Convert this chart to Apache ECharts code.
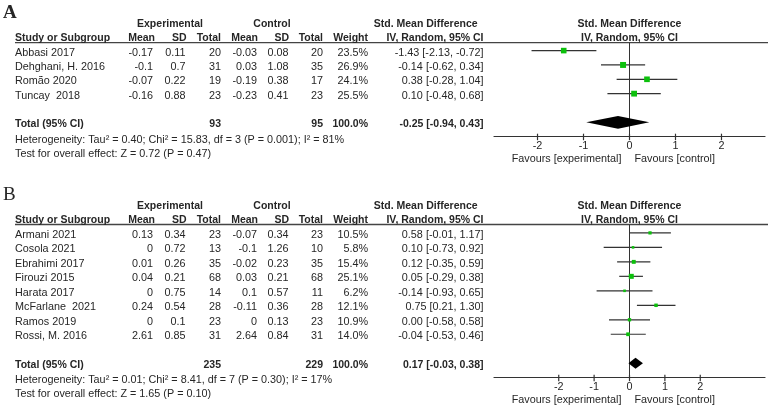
<!DOCTYPE html>
<html><head><meta charset="utf-8">
<script src="https://cdn.jsdelivr.net/npm/echarts@6/dist/echarts.min.js"></script>
<style>html,body{margin:0;padding:0;background:#fff}#c{width:777px;height:410px}</style>
</head><body><div id="c"></div>
<script>
// ---------- Panel A data ----------
const studiesA = ["Abbasi 2017", "Dehghani, H. 2016", "Romão 2020", "Tuncay  2018"];
const expMeanA = [-0.17, -0.1, -0.07, -0.16];
const expSdA   = [0.11, 0.7, 0.22, 0.88];
const expNA    = [20, 31, 19, 23];
const ctlMeanA = [-0.03, 0.03, -0.19, -0.23];
const ctlSdA   = [0.08, 1.08, 0.38, 0.41];
const ctlNA    = [20, 35, 17, 23];
const weightA  = [23.5, 26.9, 24.1, 25.5];
const smdA     = [-1.43, -0.14, 0.38, 0.10];
const lowA     = [-2.13, -0.62, -0.28, -0.48];
const highA    = [-0.72, 0.34, 1.04, 0.68];
const totalA   = [93, 95, 100.0];          // exp N, ctl N, weight
const pooledA  = [-0.25, -0.94, 0.43];     // smd, low, high
const hetA  = "Heterogeneity: Tau\u00b2 = 0.40; Chi\u00b2 = 15.83, df = 3 (P = 0.001); I\u00b2 = 81%";
const testA = "Test for overall effect: Z = 0.72 (P = 0.47)";

// ---------- Panel B data ----------
const studiesB = ["Armani 2021", "Cosola 2021", "Ebrahimi 2017", "Firouzi 2015", "Harata 2017", "McFarlane  2021", "Ramos 2019", "Rossi, M. 2016"];
const expMeanB = [0.13, 0, 0.01, 0.04, 0, 0.24, 0, 2.61];
const expSdB   = [0.34, 0.72, 0.26, 0.21, 0.75, 0.54, 0.1, 0.85];
const expNB    = [23, 13, 35, 68, 14, 28, 23, 31];
const ctlMeanB = [-0.07, -0.1, -0.02, 0.03, 0.1, -0.11, 0, 2.64];
const ctlSdB   = [0.34, 1.26, 0.23, 0.21, 0.57, 0.36, 0.13, 0.84];
const ctlNB    = [23, 10, 35, 68, 11, 28, 23, 31];
const weightB  = [10.5, 5.8, 15.4, 25.1, 6.2, 12.1, 10.9, 14.0];
const smdB     = [0.58, 0.10, 0.12, 0.05, -0.14, 0.75, 0.00, -0.04];
const lowB     = [-0.01, -0.73, -0.35, -0.29, -0.93, 0.21, -0.58, -0.53];
const highB    = [1.17, 0.92, 0.59, 0.38, 0.65, 1.30, 0.58, 0.46];
const totalB   = [235, 229, 100.0];
const pooledB  = [0.17, -0.03, 0.38];
const hetB  = "Heterogeneity: Tau\u00b2 = 0.01; Chi\u00b2 = 8.41, df = 7 (P = 0.30); I\u00b2 = 17%";
const testB = "Test for overall effect: Z = 1.65 (P = 0.10)";

// ---------- shared text ----------
const tickValues = [-2, -1, 0, 1, 2];
const panelLabels = ["A", "B"];
const headTop = ["Experimental", "Control", "Std. Mean Difference"];
const headCols = ["Study or Subgroup", "Mean", "SD", "Total", "Mean", "SD", "Total", "Weight", "IV, Random, 95% CI"];
const favours = ["Favours [experimental]", "Favours [control]"];
const totalLabel = "Total (95% CI)";

// ---------- styling / layout ----------
const FONT = '"Liberation Sans", Arial, sans-serif';
const FS = 10.8;
const FSB = 10.5;
const TXT = '#262626';
const LINE = '#333';
const GREEN = '#0cc00c';
const TXT_DY = 2;
const colRight = [null, 155, 186.5, 221, 258, 289, 323, 368, 483.5];
const STUDY_X = 15;

const panels = [
  { studies: studiesA, eM: expMeanA, eS: expSdA, eN: expNA, cM: ctlMeanA, cS: ctlSdA, cN: ctlNA,
    w: weightA, smd: smdA, lo: lowA, hi: highA, tot: totalA, pool: pooledA, het: hetA, test: testA,
    top: 42.7, height: 94, xr: 2.946, yMin: -0.55, sq: 1.15, dh: 6.3, labelBold: true, footDy: 0.1 },
  { studies: studiesB, eM: expMeanB, eS: expSdB, eN: expNB, cM: ctlMeanB, cS: ctlSdB, cN: ctlNB,
    w: weightB, smd: smdB, lo: lowB, hi: highB, tot: totalB, pool: pooledB, het: hetB, test: testB,
    top: 224.5, height: 153.2, xr: 3.83, yMin: -0.58, sq: 1.0, dh: 5.5, labelBold: false, footDy: 0 }
];

function txt(x, y, s, align, bold, size, family) {
  return { type: 'text', x: x, y: y, silent: true,
    style: { text: s, fill: TXT, align: align, verticalAlign: 'middle',
      font: (bold ? 'bold ' : '') + (size || (bold ? FSB : FS)) + 'px ' + (family || FONT) } };
}
function line(x1, y1, x2, y2, w, c) {
  return { type: 'line', silent: true, shape: { x1: x1, y1: y1, x2: x2, y2: y2 },
    style: { stroke: c || LINE, lineWidth: w || 1 } };
}
const fmtCI = (m, l, h) => m.toFixed(2) + ' [' + l.toFixed(2) + ', ' + h.toFixed(2) + ']';

const grids = [], xAxes = [], yAxes = [], series = [];
panels.forEach((P, gi) => {
  const n = P.studies.length;
  const T = n + 1;          // total row index
  const AX = T + 1;         // axis row index
  grids.push({ left: 494, right: 12, top: P.top, height: P.height });
  xAxes.push({ gridIndex: gi, type: 'value', min: -P.xr, max: P.xr,
    axisLine: { onZero: false, lineStyle: { color: LINE, width: 1.2 } },
    axisTick: { show: false }, splitLine: { show: false },
    axisLabel: { customValues: tickValues, margin: 4, fontSize: FS, color: TXT, fontFamily: FONT } });
  yAxes.push({ gridIndex: gi, type: 'value', inverse: true, min: P.yMin, max: AX, show: false });

  // table text + header line + zero line + ticks + favours
  series.push({
    type: 'custom', xAxisIndex: gi, yAxisIndex: gi, silent: true, clip: false, animation: false,
    data: [[0, 0]], z: 1,
    renderItem: function (params, api) {
      const yr = r => api.coord([0, r])[1];
      const yt = r => yr(r) + TXT_DY;
      const x0 = api.coord([0, 0])[0];
      const ch = [];
      ch.push(line(STUDY_X, yr(P.yMin), 768, yr(P.yMin), 1.3, '#444'));
      ch.push(line(x0, yr(P.yMin), x0, yr(AX), 1, LINE));
      tickValues.forEach(v => {
        const tx = api.coord([v, AX])[0];
        ch.push(line(tx, yr(AX) - 3, tx, yr(AX) + 3.5, 1.2, LINE));
      });
      ch.push(txt(3, yr(-2.62), panelLabels[gi], 'left', P.labelBold, 19, '"Liberation Serif", "Times New Roman", serif'));
      ch.push(txt(170, yt(-2), headTop[0], 'center', true));
      ch.push(txt(272, yt(-2), headTop[1], 'center', true));
      ch.push(txt(425.7, yt(-2), headTop[2], 'center', true));
      ch.push(txt(x0, yt(-2), headTop[2], 'center', true));
      ch.push(txt(STUDY_X, yt(-1), headCols[0], 'left', true));
      for (let k = 1; k < headCols.length; k++) ch.push(txt(colRight[k], yt(-1), headCols[k], 'right', true));
      ch.push(txt(x0, yt(-1), headCols[8], 'center', true));
      for (let i = 0; i < n; i++) {
        const y = yt(i);
        ch.push(txt(STUDY_X, y, P.studies[i], 'left'));
        ch.push(txt(colRight[1] - 2, y, String(P.eM[i]), 'right'));
        ch.push(txt(colRight[2] - 1, y, String(P.eS[i]), 'right'));
        ch.push(txt(colRight[3], y, String(P.eN[i]), 'right'));
        ch.push(txt(colRight[4] - 1, y, String(P.cM[i]), 'right'));
        ch.push(txt(colRight[5] - 0.5, y, String(P.cS[i]), 'right'));
        ch.push(txt(colRight[6], y, String(P.cN[i]), 'right'));
        ch.push(txt(colRight[7], y, P.w[i].toFixed(1) + '%', 'right'));
        ch.push(txt(colRight[8], y, fmtCI(P.smd[i], P.lo[i], P.hi[i]), 'right'));
      }
      ch.push(txt(STUDY_X, yt(T), totalLabel, 'left', true));
      ch.push(txt(colRight[3], yt(T), String(P.tot[0]), 'right', true));
      ch.push(txt(colRight[6], yt(T), String(P.tot[1]), 'right', true));
      ch.push(txt(colRight[7], yt(T), P.tot[2].toFixed(1) + '%', 'right', true));
      ch.push(txt(colRight[8], yt(T), fmtCI(P.pool[0], P.pool[1], P.pool[2]), 'right', true));
      ch.push(txt(STUDY_X, yt(T + 1 + P.footDy), P.het, 'left'));
      ch.push(txt(STUDY_X, yt(T + 2 + P.footDy), P.test, 'left'));
      ch.push(txt(x0 - 8, yr(AX) + 22.5, favours[0], 'right'));
      ch.push(txt(x0 + 5, yr(AX) + 22.5, favours[1], 'left'));
      return { type: 'group', children: ch };
    }
  });

  series.push({
    type: 'custom', xAxisIndex: gi, yAxisIndex: gi, silent: true, clip: false, animation: false, z: 3,
    encode: { x: [0, 2, 3], y: 1 },
    data: P.studies.map((_, i) => [P.smd[i], i, P.lo[i], P.hi[i], P.w[i]]),
    renderItem: function (params, api) {
      const c = api.coord([api.value(0), api.value(1)]);
      const l = api.coord([api.value(2), api.value(1)]);
      const h = api.coord([api.value(3), api.value(1)]);
      const s = Math.max(2.6, Math.sqrt(api.value(4)) * P.sq);
      return { type: 'group', children: [
        line(l[0], l[1], h[0], h[1], 1.2, LINE),
        { type: 'rect', shape: { x: c[0] - s / 2, y: c[1] - s / 2, width: s, height: s }, style: { fill: GREEN } }
      ] };
    }
  });

  series.push({
    type: 'custom', xAxisIndex: gi, yAxisIndex: gi, silent: true, clip: false, animation: false, z: 3,
    encode: { x: [0, 2, 3], y: 1 },
    data: [[P.pool[0], T, P.pool[1], P.pool[2]]],
    renderItem: function (params, api) {
      const c = api.coord([api.value(0), api.value(1)]);
      const l = api.coord([api.value(2), api.value(1)]);
      const h = api.coord([api.value(3), api.value(1)]);
      return { type: 'polygon', shape: { points: [[l[0], c[1]], [c[0], c[1] - P.dh], [h[0], c[1]], [c[0], c[1] + P.dh]] },
        style: { fill: '#000' } };
    }
  });
});

const chart = echarts.init(document.getElementById('c'), null, { renderer: 'canvas' });
chart.setOption({
  animation: false,
  backgroundColor: '#fff',
  grid: grids, xAxis: xAxes, yAxis: yAxes, series: series
});
</script></body></html>
